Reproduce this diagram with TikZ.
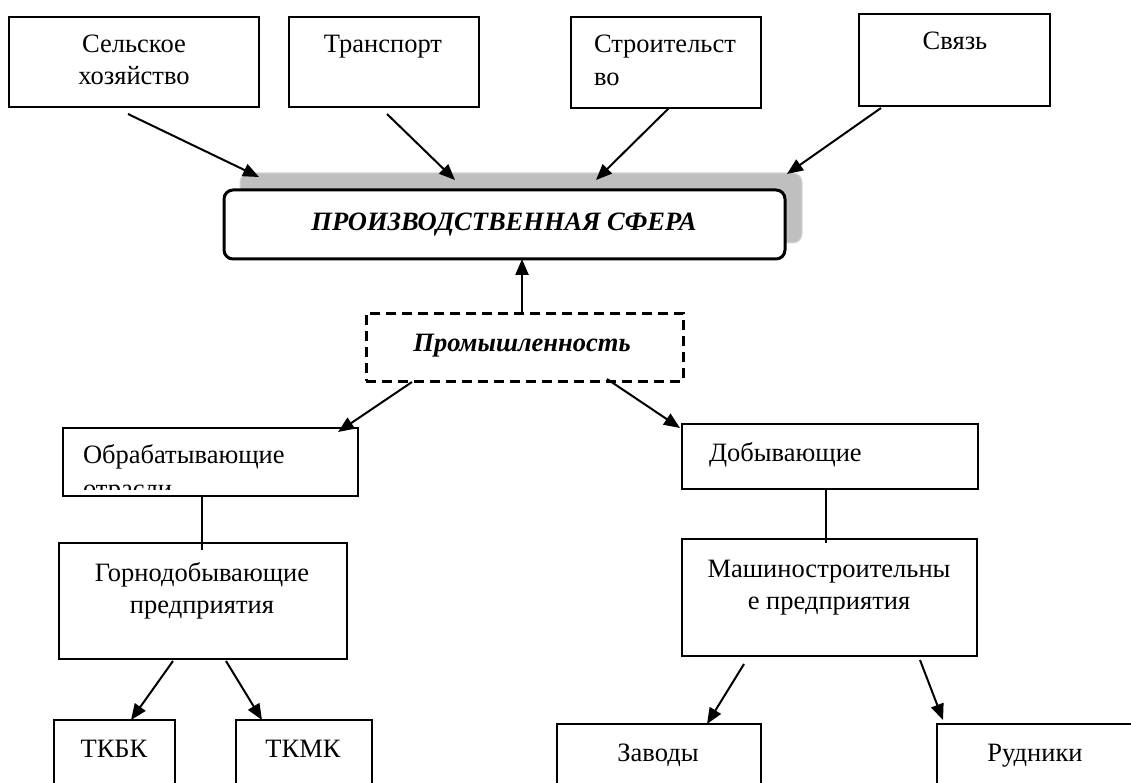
\documentclass[tikz,border=0pt]{standalone}
\usepackage{fontspec}
\setmainfont{Liberation Serif}
\usetikzlibrary{arrows.meta,calc}
\begin{document}
\begin{tikzpicture}[x=1pt,y=-1pt,
  every node/.style={inner sep=0pt,outer sep=0pt},
  box/.style={draw=black,line width=1.5pt,fill=white,rectangle,anchor=north west},
  txt/.style={font=\fontsize{26.5}{32}\selectfont,align=center},
  ltxt/.style={font=\fontsize{26.5}{32}\selectfont,align=left},
  btxt/.style={font=\fontsize{26.5}{32}\selectfont\bfseries\itshape},
  arr/.style={line width=2pt,-{Triangle[length=16pt,width=13pt]}},
  conn/.style={line width=1.5pt}
]
\useasboundingbox (0,0) rectangle (1131,783);
\clip (0,0) rectangle (1131,783);
\fill[white] (0,0) rectangle (1131,783);

% shadow and main box
\node[draw=black!15,line width=1pt,fill=black!25,rounded corners=9pt,minimum width=562pt,minimum height=70pt,anchor=north west] (shad) at (240,173) {};
\node[draw=black,line width=3pt,fill=white,rounded corners=9pt,minimum width=561pt,minimum height=69pt,anchor=north west] (prod) at (224,190) {};
\node[btxt,anchor=base] (prodt) at (504,231) {ПРОИЗВОДСТВЕННАЯ СФЕРА};

% top boxes
\node[box,minimum width=250pt,minimum height=90pt] (selh) at (9,17) {};
\node[txt,anchor=base] (selht) at (134,85) {Сельское\\хозяйство};
\node[box,minimum width=190pt,minimum height=90pt] (trans) at (289,17) {};
\node[txt,anchor=base] (transt) at (383,53) {Транспорт};
\node[box,minimum width=190pt,minimum height=91pt] (stroi) at (571,17) {};
\node[ltxt,anchor=base west,font=\fontsize{26.5}{33}\selectfont] (stroit) at (594,86) {Строительст\\во};
\node[box,minimum width=191pt,minimum height=92pt] (svyaz) at (859,14) {};
\node[txt,anchor=base] (svyazt) at (955,50) {Связь};

% Promyshlennost
\node[draw=black,line width=3pt,dash pattern=on 10pt off 6pt,fill=white,minimum width=317pt,minimum height=68pt,anchor=north west] (prom) at (366,313) {};
\node[btxt,anchor=base] (promt) at (522,351) {Промышленность};

% second level
\node[box,minimum width=295pt,minimum height=68pt] (obr) at (63,428) {};
\begin{scope}
\clip (63,428) rectangle (358,489);
\node[ltxt,anchor=base west,font=\fontsize{26.5}{34}\selectfont] (obrt) at (83,497) {Обрабатывающие\\отрасли};
\end{scope}
\node[box,minimum width=296pt,minimum height=65pt] (dob) at (682,424) {};
\node[ltxt,anchor=base west] (dobt) at (709,461) {Добывающие};

% third level
\node[box,minimum width=288pt,minimum height=116pt] (gorn) at (59,543) {};
\node[txt,anchor=base] (gornt) at (202,613) {Горнодобывающие\\предприятия};
\node[box,minimum width=295pt,minimum height=117pt] (mash) at (682,539) {};
\node[txt,anchor=base] (masht) at (829,609) {Машиностроительны\\е предприятия};

% bottom level
\node[box,minimum width=121pt,minimum height=100pt] (tkbk) at (54,720) {};
\node[txt,anchor=base] (tkbkt) at (114,757) {ТКБК};
\node[box,minimum width=136pt,minimum height=100pt] (tkmk) at (236,720) {};
\node[txt,anchor=base] (tkmkt) at (303,757) {ТКМК};
\node[box,minimum width=204pt,minimum height=100pt] (zav) at (557,724) {};
\node[txt,anchor=base] (zavt) at (658,761) {Заводы};
\node[box,minimum width=203pt,minimum height=100pt] (rud) at (937,724) {};
\node[txt,anchor=base] (rudt) at (1035,761) {Рудники};

% connectors
\draw[arr] ([xshift=119pt,yshift=-7pt]selh.south west) -- ([xshift=19pt,yshift=-4pt]shad.north west);
\draw[arr] ([xshift=98pt,yshift=-7pt]trans.south west) -- ([xshift=215pt,yshift=-7pt]shad.north west);
\draw[arr] ([xshift=98pt]stroi.south west) -- ([xshift=356pt,yshift=-7pt]shad.north west);
\draw[arr] ([xshift=22pt,yshift=-2pt]svyaz.south west) -- ([xshift=547pt,yshift=-1pt]shad.north west);
\draw[arr,line width=2.5pt] ([xshift=156pt]prom.north west) -- ([xshift=298pt]prod.south west);
\draw[arr] ([xshift=46pt,yshift=-1pt]prom.south west) -- ([xshift=275pt,yshift=-4pt]obr.north west);
\draw[arr] ([xshift=241pt,yshift=2pt]prom.south west) -- ([xshift=-2pt,yshift=-4pt]dob.north west);
\draw[conn] ([xshift=139pt]obr.south west) -- ([xshift=143pt,yshift=-7pt]gorn.north west);
\draw[conn] ([xshift=144pt]dob.south west) -- ([xshift=144pt,yshift=-4pt]mash.north west);
\draw[arr] ([xshift=114pt,yshift=-2pt]gorn.south west) -- ([xshift=77pt]tkbk.north west);
\draw[arr] ([xshift=167pt,yshift=-2pt]gorn.south west) -- ([xshift=26pt]tkmk.north west);
\draw[arr] ([xshift=62pt,yshift=-8pt]mash.south west) -- ([xshift=150pt]zav.north west);
\draw[arr] ([xshift=238pt,yshift=-4pt]mash.south west) -- ([xshift=6pt,yshift=4pt]rud.north west);
\end{tikzpicture}
\end{document}
